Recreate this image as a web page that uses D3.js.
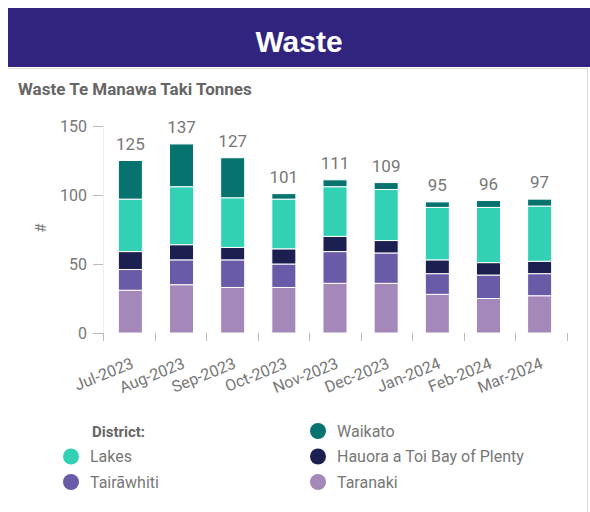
<!DOCTYPE html>
<html><head><meta charset="utf-8">
<script src="https://cdn.jsdelivr.net/npm/d3@7"></script>
<style>body{margin:0;background:#fff;}svg{display:block;font-family:Roboto,"Noto Sans",sans-serif;}</style>
</head><body>
<svg id="c" width="590" height="512"></svg>
<script>
const months = ["Jul-2023","Aug-2023","Sep-2023","Oct-2023","Nov-2023","Dec-2023","Jan-2024","Feb-2024","Mar-2024"];
const taranaki   = [31,35,33,33,36,36,28,25,27];
const tairawhiti = [15,18,20,17,23,22,15,17,16];
const hauora     = [13,11, 9,11,11, 9,10, 9, 9];
const lakes      = [38,42,36,36,36,37,38,40,40];
const waikato    = [28,31,29, 4, 5, 5, 4, 5, 5];
const yTicks = [0,50,100,150];
const seriesNames = ["Taranaki","Tairāwhiti","Hauora a Toi Bay of Plenty","Lakes","Waikato"];
const seriesColors = ["#a488b9","#6a5ba8","#1c2050","#32d0b5","#07736f"];

const svg = d3.select("#c");
// header
svg.append("rect").attr("x",8).attr("y",8).attr("width",582).attr("height",59).attr("fill","#31247f");
svg.append("text").attr("x",299).attr("y",52).attr("text-anchor","middle")
  .attr("font-family","'Liberation Sans',Arial,sans-serif").attr("font-weight","bold")
  .attr("font-size",30).attr("fill","#fff").text("Waste");
// card borders
svg.append("line").attr("x1",8).attr("x2",588).attr("y1",68.5).attr("y2",68.5).attr("stroke","#ddd");
svg.append("line").attr("x1",587.5).attr("x2",587.5).attr("y1",68).attr("y2",512).attr("stroke","#ddd");
svg.append("text").attr("x",18).attr("y",95).attr("font-weight","bold").attr("font-size",17)
  .attr("fill","#666").text("Waste Te Manawa Taki Tonnes");

const data = months.map((m,i)=>({month:m, Taranaki:taranaki[i], "Tairāwhiti":tairawhiti[i],
  "Hauora a Toi Bay of Plenty":hauora[i], Lakes:lakes[i], Waikato:waikato[i]}));
const stack = d3.stack().keys(seriesNames)(data);

const x = d3.scaleBand().domain(months).range([103,567]).paddingInner(0.53).paddingOuter(0.3);
const y = d3.scaleLinear().domain([0,150]).range([333,126]);
const color = d3.scaleOrdinal().domain(seriesNames).range(seriesColors);

// y axis
svg.append("line").attr("x1",103.5).attr("x2",103.5).attr("y1",126).attr("y2",333).attr("stroke","#eee");
const ya = svg.append("g");
ya.selectAll("line").data(yTicks).join("line")
  .attr("x1",93).attr("x2",103).attr("y1",d=>y(d)+0.5).attr("y2",d=>y(d)+0.5).attr("stroke","#bbb");
ya.selectAll("text").data(yTicks).join("text")
  .attr("x",87).attr("y",d=>y(d)).attr("dy","0.35em").attr("text-anchor","end")
  .attr("font-size",16).attr("fill","#777").text(d=>d);
svg.append("text").attr("transform","translate(46,228) rotate(-90)").attr("text-anchor","middle")
  .attr("font-size",15).attr("fill","#777").text("#");

// x ticks at band edges
const edges = d3.range(months.length+1).map(i=>103 + i*(464/months.length));
svg.append("g").selectAll("line").data(edges).join("line")
  .attr("x1",d=>Math.round(d)+0.5).attr("x2",d=>Math.round(d)+0.5).attr("y1",333).attr("y2",341).attr("stroke","#bbb");

// bars
svg.append("g").selectAll("g").data(stack).join("g").attr("fill",d=>color(d.key))
  .selectAll("rect").data(d=>d).join("rect")
  .attr("x",d=>x(d.data.month)).attr("width",x.bandwidth())
  .attr("y",d=>y(d[1])).attr("height",d=>y(d[0])-y(d[1]))
  .attr("stroke","#fff").attr("stroke-width",1);

// totals
const totals = data.map((d,i)=>taranaki[i]+tairawhiti[i]+hauora[i]+lakes[i]+waikato[i]);
svg.append("g").selectAll("text").data(months).join("text")
  .attr("x",d=>x(d)+x.bandwidth()/2).attr("y",(d,i)=>y(totals[i])-11)
  .attr("text-anchor","middle").attr("font-size",17).attr("fill","#777").text((d,i)=>totals[i]);

// x labels
svg.append("g").selectAll("text").data(months).join("text")
  .attr("transform",d=>`translate(${x(d)+x.bandwidth()/2},${357}) rotate(-22)`)
  .attr("text-anchor","end").attr("dy","0.71em").attr("font-size",16).attr("fill","#777").text(d=>d);

// legend
svg.append("text").attr("x",92).attr("y",437).attr("font-weight","bold").attr("font-size",15)
  .attr("fill","#666").text("District:");
const legendItems = [
  {name:"Lakes", col:0, row:1},
  {name:"Tairāwhiti", col:0, row:2},
  {name:"Waikato", col:1, row:0},
  {name:"Hauora a Toi Bay of Plenty", col:1, row:1},
  {name:"Taranaki", col:1, row:2}
];
const lg = svg.append("g").selectAll("g").data(legendItems).join("g")
  .attr("transform",d=>`translate(${d.col?318:71},${431+d.row*25.5})`);
lg.append("circle").attr("r",8).attr("fill",d=>color(d.name));
lg.append("text").attr("x",19).attr("dy","0.35em").attr("font-size",16).attr("fill","#777").text(d=>d.name);
</script>
</body></html>
